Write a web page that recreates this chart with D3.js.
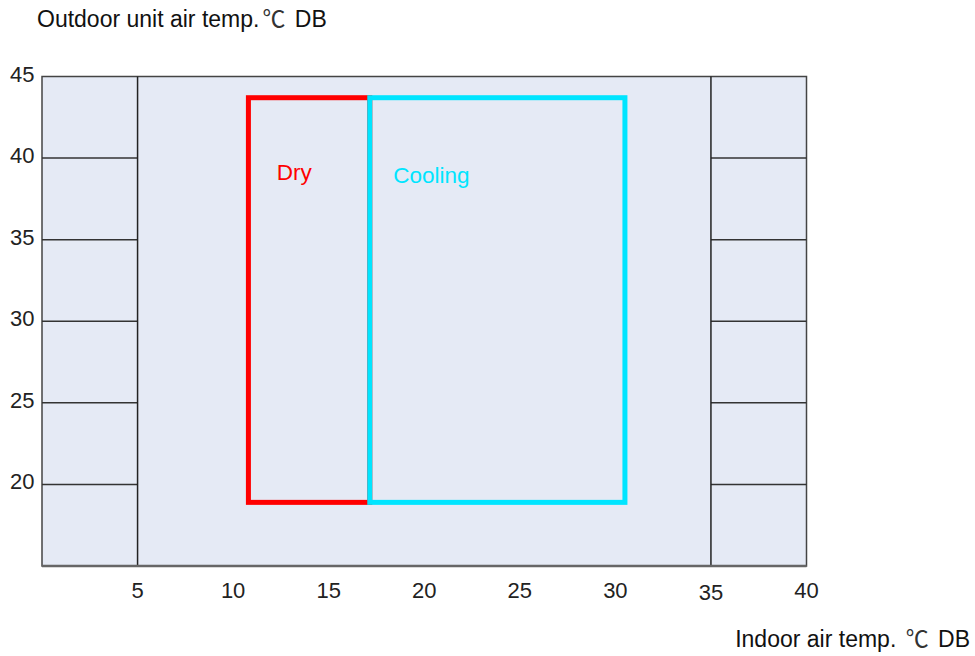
<!DOCTYPE html>
<html>
<head>
<meta charset="utf-8">
<script src="https://cdn.jsdelivr.net/npm/d3@7"></script>
<style>
  body { margin: 0; background: #fff; }
  text { font-family: "Liberation Sans", Arial, sans-serif; }
  .cjk { font-family: "Noto Sans CJK SC", sans-serif; }
</style>
</head>
<body>
<div id="chart"></div>
<script>
(function operating_range() {
  const xTicks = [5, 10, 15, 20, 25, 30, 35, 40];
  const yTicks = [20, 25, 30, 35, 40, 45];
  const gridY = [20, 25, 30, 35, 40];
  const dividers = [5, 35];

  const zoneNames = ["Dry", "Cooling"];
  const zoneColors = ["#ff0000", "#00e5ff"];
  const zoneX0 = [10.8, 17.15];
  const zoneX1 = [17.15, 30.5];
  const zoneY0 = [18.9, 18.9];
  const zoneY1 = [43.7, 43.7];
  const zoneLabelX = [12.28, 18.38];
  const zoneLabelY = [38.66, 38.45];

  const width = 975,
    height = 656;

  const svg = d3.select("#chart")
    .append("svg")
    .attr("width", width)
    .attr("height", height)
    .attr("viewBox", [0, 0, width, height]);

  const x = d3.scaleLinear().domain([0, 40]).range([42, 806.5]);
  const y = d3.scaleLinear().domain([15, 45]).range([566, 76.5]);

  // plot background
  svg.append("rect")
    .attr("x", x(0))
    .attr("y", y(45))
    .attr("width", x(40) - x(0))
    .attr("height", y(15) - y(45))
    .attr("fill", "#e5eaf5")
    .attr("stroke", "#444")
    .attr("stroke-width", 1.5);

  // short gridlines at both sides
  svg.append("g")
    .selectAll("line")
    .data(gridY.flatMap(v => [[0, 5, v], [35, 40, v]]))
    .join("line")
    .attr("x1", d => x(d[0]))
    .attr("x2", d => x(d[1]))
    .attr("y1", d => y(d[2]))
    .attr("y2", d => y(d[2]))
    .attr("stroke", "#333")
    .attr("stroke-width", 1.5);

  svg.append("g")
    .selectAll("line")
    .data(dividers)
    .join("line")
    .attr("x1", d => x(d))
    .attr("x2", d => x(d))
    .attr("y1", y(45))
    .attr("y2", y(15))
    .attr("stroke", "#222")
    .attr("stroke-width", 1.5);

  // bottom axis line
  svg.append("line")
    .attr("x1", x(0))
    .attr("x2", x(40))
    .attr("y1", y(15))
    .attr("y2", y(15))
    .attr("stroke", "#666")
    .attr("stroke-width", 2.5);

  // tick labels
  svg.append("g")
    .selectAll("text")
    .data(xTicks)
    .join("text")
    .attr("x", d => x(d))
    .attr("y", d => d === 35 ? 600 : 598)
    .attr("text-anchor", "middle")
    .attr("font-size", 22)
    .attr("fill", "#222")
    .text(d => d);

  svg.append("g")
    .selectAll("text")
    .data(yTicks)
    .join("text")
    .attr("x", 34.5)
    .attr("y", d => y(d) + 5)
    .attr("text-anchor", "end")
    .attr("font-size", 22)
    .attr("fill", "#222")
    .text(d => d);

  // zones
  const zones = zoneNames.map((name, i) => ({
    name, color: zoneColors[i],
    x0: zoneX0[i], x1: zoneX1[i], y0: zoneY0[i], y1: zoneY1[i],
    lx: zoneLabelX[i], ly: zoneLabelY[i]
  }));

  svg.append("g")
    .selectAll("rect")
    .data(zones)
    .join("rect")
    .attr("x", d => x(d.x0))
    .attr("y", d => y(d.y1))
    .attr("width", d => x(d.x1) - x(d.x0))
    .attr("height", d => y(d.y0) - y(d.y1))
    .attr("fill", "none")
    .attr("stroke", d => d.color)
    .attr("stroke-width", 5);

  svg.append("g")
    .selectAll("text")
    .data(zones)
    .join("text")
    .attr("x", d => x(d.lx))
    .attr("y", d => y(d.ly))
    .attr("font-size", 22.5)
    .attr("fill", d => d.color)
    .text(d => d.name);

  // axis titles
  const t1 = svg.append("text")
    .attr("x", 37)
    .attr("y", 26.5)
    .attr("font-size", 23)
    .attr("fill", "#111");
  t1.append("tspan").text("Outdoor unit air temp.");
  t1.append("tspan").attr("class", "cjk").attr("dx", 3).attr("fill", "#333").text("℃");
  t1.append("tspan").attr("dx", 3).text(" DB");

  const t2 = svg.append("text")
    .attr("x", 970)
    .attr("y", 647)
    .attr("text-anchor", "end")
    .attr("font-size", 23)
    .attr("fill", "#111");
  t2.append("tspan").text("Indoor air temp. ");
  t2.append("tspan").attr("class", "cjk").attr("dx", 3).attr("fill", "#333").text("℃");
  t2.append("tspan").attr("dx", 3).text(" DB");
})();
</script>
</body>
</html>
